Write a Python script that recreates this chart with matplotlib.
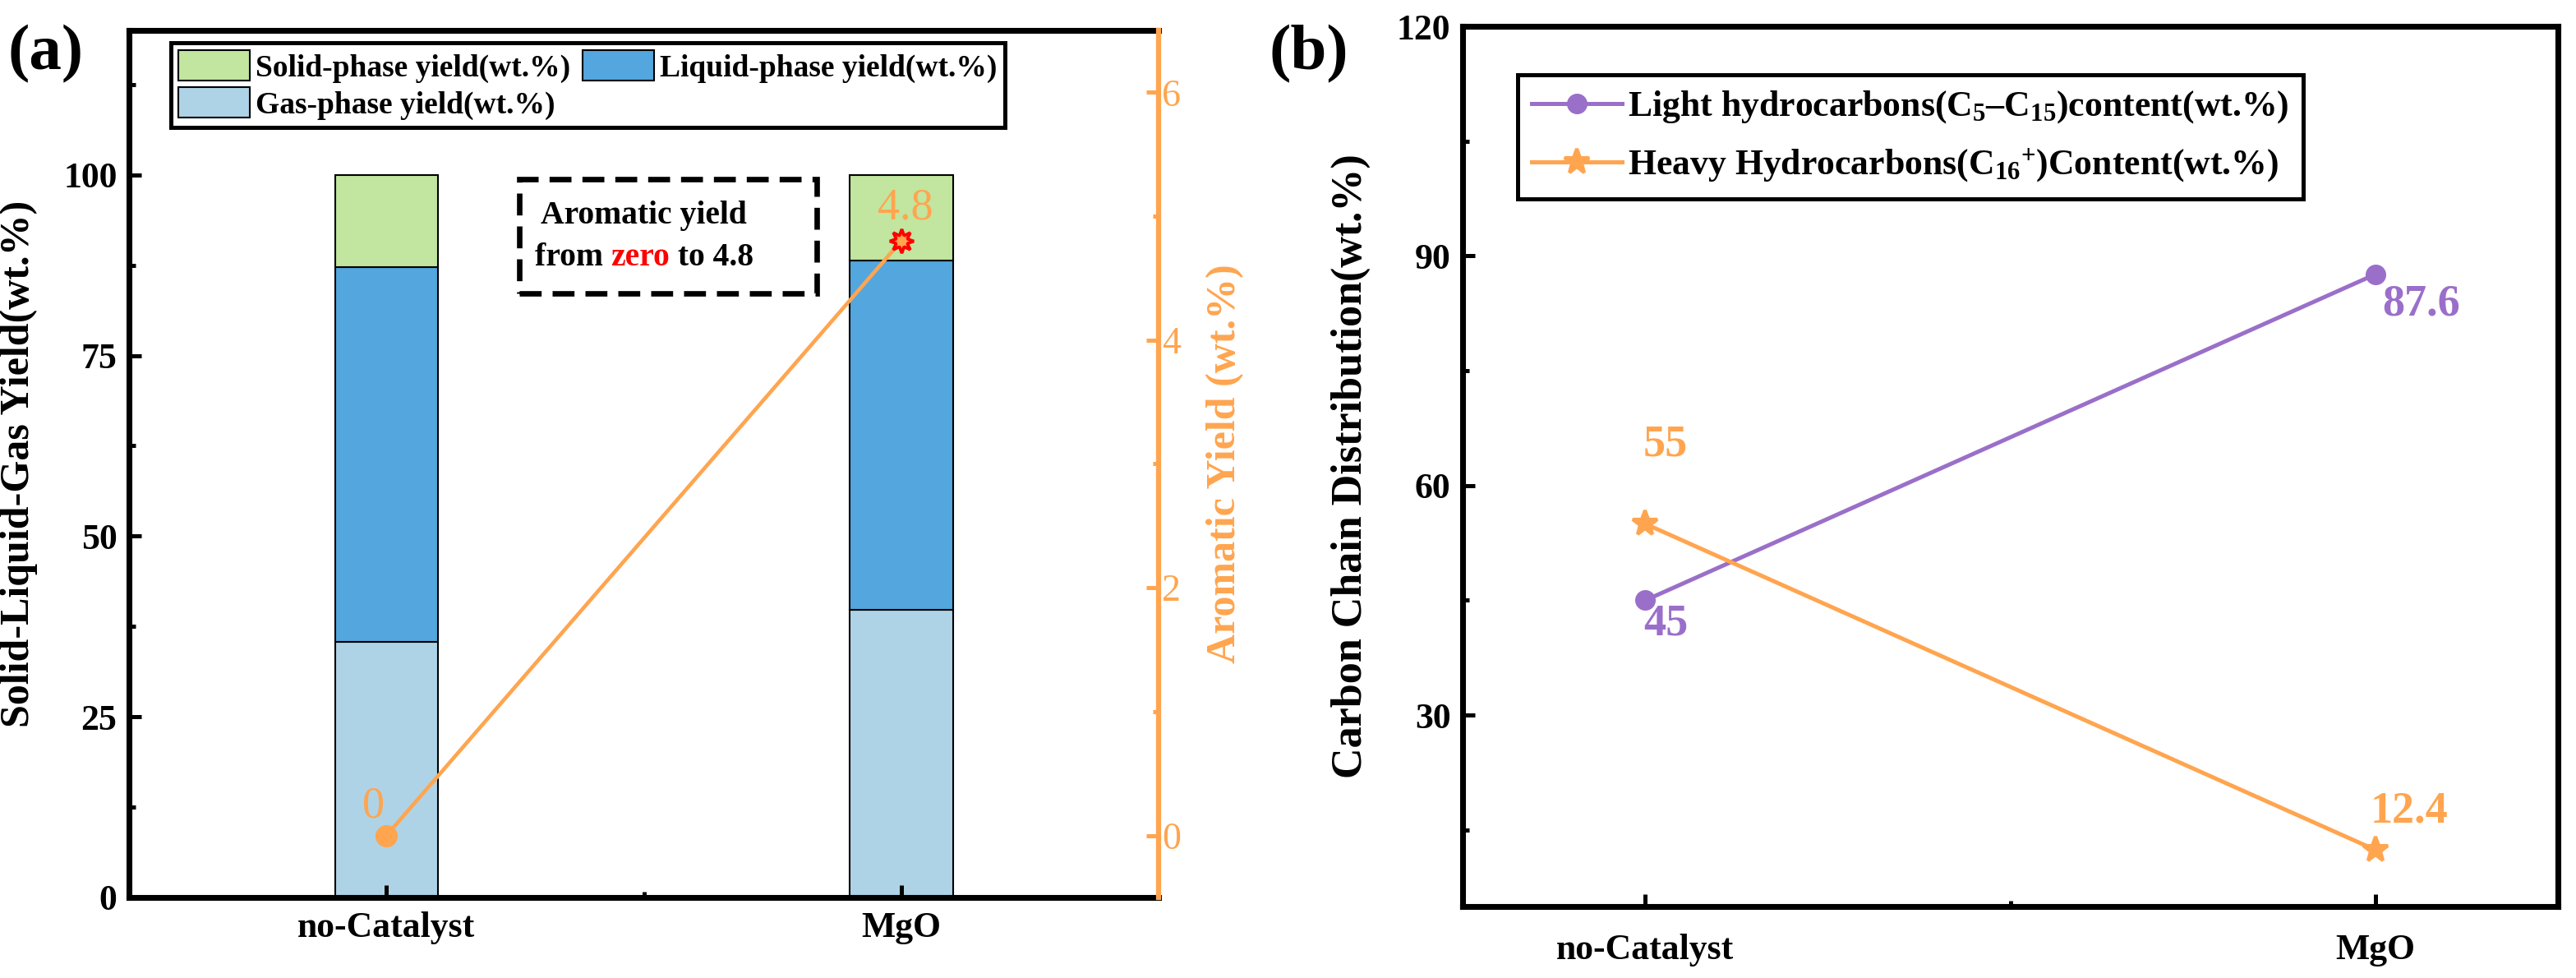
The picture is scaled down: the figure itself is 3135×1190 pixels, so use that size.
import matplotlib
matplotlib.use('Agg')
import matplotlib.pyplot as plt
from matplotlib.ticker import MultipleLocator
from matplotlib.patches import Rectangle
import numpy as np

plt.rcParams['font.family'] = ['Liberation Serif', 'DejaVu Serif']
plt.rcParams['font.weight'] = 'bold'
plt.rcParams['mathtext.fontset'] = 'custom'
plt.rcParams['mathtext.rm'] = 'Liberation Serif:bold'
plt.rcParams['mathtext.bf'] = 'Liberation Serif:bold'
plt.rcParams['mathtext.it'] = 'Liberation Serif:bold:italic'
plt.rcParams['mathtext.default'] = 'bf'

# ---- data ----
catalysts = ['no-Catalyst', 'MgO']
gas_yield = [35.4, 39.8]
liquid_yield = [51.8, 48.4]
solid_yield = [12.8, 11.8]
aromatic_yield = [0, 4.8]

light_hc = [45, 87.6]
heavy_hc = [55, 12.4]

# colours
c_solid = '#C2E59F'
c_liquid = '#53A6DE'
c_gas = '#AFD3E6'
orange = '#FFA54F'
purple = '#9A6FC9'

fig = plt.figure(figsize=(10.45, 3.9667), dpi=300)

# ================= panel (a) =================
ax = fig.add_axes([0.0501, 0.0824, 0.3997, 0.8865])
x = np.arange(len(catalysts))
w = 0.2
b1 = ax.bar(x, gas_yield, w, color=c_gas, edgecolor='black', linewidth=0.5)
b2 = ax.bar(x, liquid_yield, w, bottom=gas_yield, color=c_liquid, edgecolor='black', linewidth=0.5)
bottom2 = np.array(gas_yield) + np.array(liquid_yield)
b3 = ax.bar(x, solid_yield, w, bottom=bottom2, color=c_solid, edgecolor='black', linewidth=0.5)

ax.set_xlim(-0.5, 1.5)
ax.set_ylim(0, 120)
ax.set_xticks(x)
ax.set_xticklabels(catalysts, fontsize=10.5, fontweight='bold')
ax.set_yticks([0, 25, 50, 75, 100])
ax.yaxis.set_minor_locator(MultipleLocator(12.5))
ax.xaxis.set_minor_locator(MultipleLocator(0.5))
ax.tick_params(axis='both', which='major', direction='in', length=3.6, width=1.2, labelsize=10.5)
ax.tick_params(axis='both', which='minor', direction='in', length=1.8, width=1.2)
ax.tick_params(axis='x', pad=4)
for lab in ax.get_yticklabels():
    lab.set_fontweight('bold')
for s in ['left', 'top', 'bottom']:
    ax.spines[s].set_linewidth(1.7)
ax.spines['right'].set_visible(False)
ax.set_ylabel('Solid-Liquid-Gas Yield(wt.%)', fontsize=12, fontweight='bold')
ax.yaxis.set_label_coords(-0.089, 0.5)

# legend order so that row 1 = Solid, Liquid ; row 2 = Gas
leg = ax.legend([b3, b1, b2], ['Solid-phase yield(wt.%)', 'Gas-phase yield(wt.%)', 'Liquid-phase yield(wt.%)'],
                ncol=2, loc='upper left', bbox_to_anchor=(0.0407, 0.986), borderaxespad=0,
                prop={'weight': 'bold', 'size': 9}, handlelength=2.3, handleheight=1.15,
                handletextpad=0.2, columnspacing=0.4, labelspacing=0.15, borderpad=0.25,
                fancybox=False, framealpha=1, edgecolor='black')
leg.get_frame().set_linewidth(1.2)

# annotation box
ax.text(0.5, 94.3, 'Aromatic yield', ha='center', va='center', fontsize=9.5, fontweight='bold')
t1 = ax.text(0.288, 88.6, 'from ', ha='left', va='center', fontsize=9.5, fontweight='bold')
t2 = ax.annotate('zero', xy=(1, 0.5), xycoords=t1, ha='left', va='center', fontsize=9.5,
                 fontweight='bold', color='red')
t3 = ax.annotate(' to 4.8', xy=(1, 0.5), xycoords=t2, ha='left', va='center', fontsize=9.5,
                 fontweight='bold')
box = Rectangle((0.258, 83.6), 0.578, 15.8, fill=False, edgecolor='black', linewidth=1.6,
                linestyle=(0, (4, 2)), zorder=5)
ax.add_patch(box)

# aromatic yield on twin axis
ax2 = ax.twinx()
ax2.plot(x, aromatic_yield, color=orange, linewidth=1.1, zorder=3)
ax2.plot(x[0], aromatic_yield[0], 'o', color=orange, markersize=5.5, zorder=4)
ax2.plot(x[1], aromatic_yield[1], marker=(8, 1, 0), color=orange, markeredgecolor='red',
         markeredgewidth=0.9, markersize=7, zorder=4)
ax2.set_ylim(-0.5, 6.5)
ax2.set_yticks([0, 2, 4, 6])
ax2.yaxis.set_minor_locator(MultipleLocator(1))
ax2.tick_params(axis='y', which='major', direction='in', length=3.6, width=1.2, colors=orange,
                labelsize=11, pad=1)
ax2.tick_params(axis='y', which='minor', direction='in', length=1.8, width=1.2, colors=orange)
for s in ['left', 'top', 'bottom']:
    ax2.spines[s].set_visible(False)
ax2.spines['right'].set_color(orange)
ax2.spines['right'].set_linewidth(1.5)
for lab in ax2.get_yticklabels():
    lab.set_fontweight('normal')
ax2.set_ylabel('Aromatic Yield (wt.%)', fontsize=12, fontweight='bold', color=orange)
ax2.yaxis.set_label_coords(1.046, 0.5)
ax2.annotate('0', (x[0], aromatic_yield[0]), xytext=(-3.8, 8.4), textcoords='offset points',
             ha='center', va='center', fontsize=13, fontweight='normal', color=orange)
ax2.annotate('4.8', (x[1], aromatic_yield[1]), xytext=(1.2, 9.6), textcoords='offset points',
             ha='center', va='center', fontsize=13, fontweight='normal', color=orange)

fig.text(0.003, 0.945, '(a)', fontsize=19, fontweight='bold', ha='left', va='center')

# ================= panel (b) =================
bx = fig.add_axes([0.5678, 0.0731, 0.4252, 0.9000])
bx.plot(x, light_hc, color=purple, linewidth=1.2, marker='o', markersize=5,
        label='Light hydrocarbons(C$_5$–C$_{15}$)content(wt.%)')
bx.plot(x, heavy_hc, color=orange, linewidth=1.2, marker='*', markersize=7.5,
        label='Heavy Hydrocarbons(C$_{16}$$^{+}$)Content(wt.%)')
bx.set_xlim(-0.25, 1.25)
bx.set_ylim(5, 120)
bx.set_xticks(x)
bx.set_xticklabels(catalysts, fontsize=10.5, fontweight='bold')
bx.set_yticks([30, 60, 90, 120])
bx.yaxis.set_minor_locator(MultipleLocator(15))
bx.xaxis.set_minor_locator(MultipleLocator(0.5))
bx.tick_params(axis='both', which='major', direction='in', length=3.6, width=1.2, labelsize=10.5)
bx.tick_params(axis='both', which='minor', direction='in', length=1.8, width=1.2)
bx.tick_params(axis='x', pad=8)
for lab in bx.get_yticklabels():
    lab.set_fontweight('bold')
for s in bx.spines.values():
    s.set_linewidth(1.7)
bx.set_ylabel('Carbon Chain Distribution(wt.%)', fontsize=12.5, fontweight='bold')
bx.yaxis.set_label_coords(-0.084, 0.5)

leg2 = bx.legend(loc='upper left', bbox_to_anchor=(0.050, 0.945), borderaxespad=0,
                 prop={'weight': 'bold', 'size': 10.5}, handlelength=2.5, handletextpad=0.16,
                 labelspacing=0.6, borderpad=0.4, fancybox=False, framealpha=1, edgecolor='black')
leg2.get_frame().set_linewidth(1.2)

bx.annotate('45', (x[0], light_hc[0]), xytext=(6, -7), textcoords='offset points',
            ha='center', va='center', fontsize=13, color=purple)
bx.annotate('87.6', (x[1], light_hc[1]), xytext=(13.4, -8.7), textcoords='offset points',
            ha='center', va='center', fontsize=13, color=purple)
bx.annotate('55', (x[0], heavy_hc[0]), xytext=(6, 23), textcoords='offset points',
            ha='center', va='center', fontsize=13, color=orange)
bx.annotate('12.4', (x[1], heavy_hc[1]), xytext=(9.8, 11.3), textcoords='offset points',
            ha='center', va='center', fontsize=13, color=orange)

fig.text(0.4928, 0.945, '(b)', fontsize=19, fontweight='bold', ha='left', va='center')

fig.savefig('out.png', dpi=300)
